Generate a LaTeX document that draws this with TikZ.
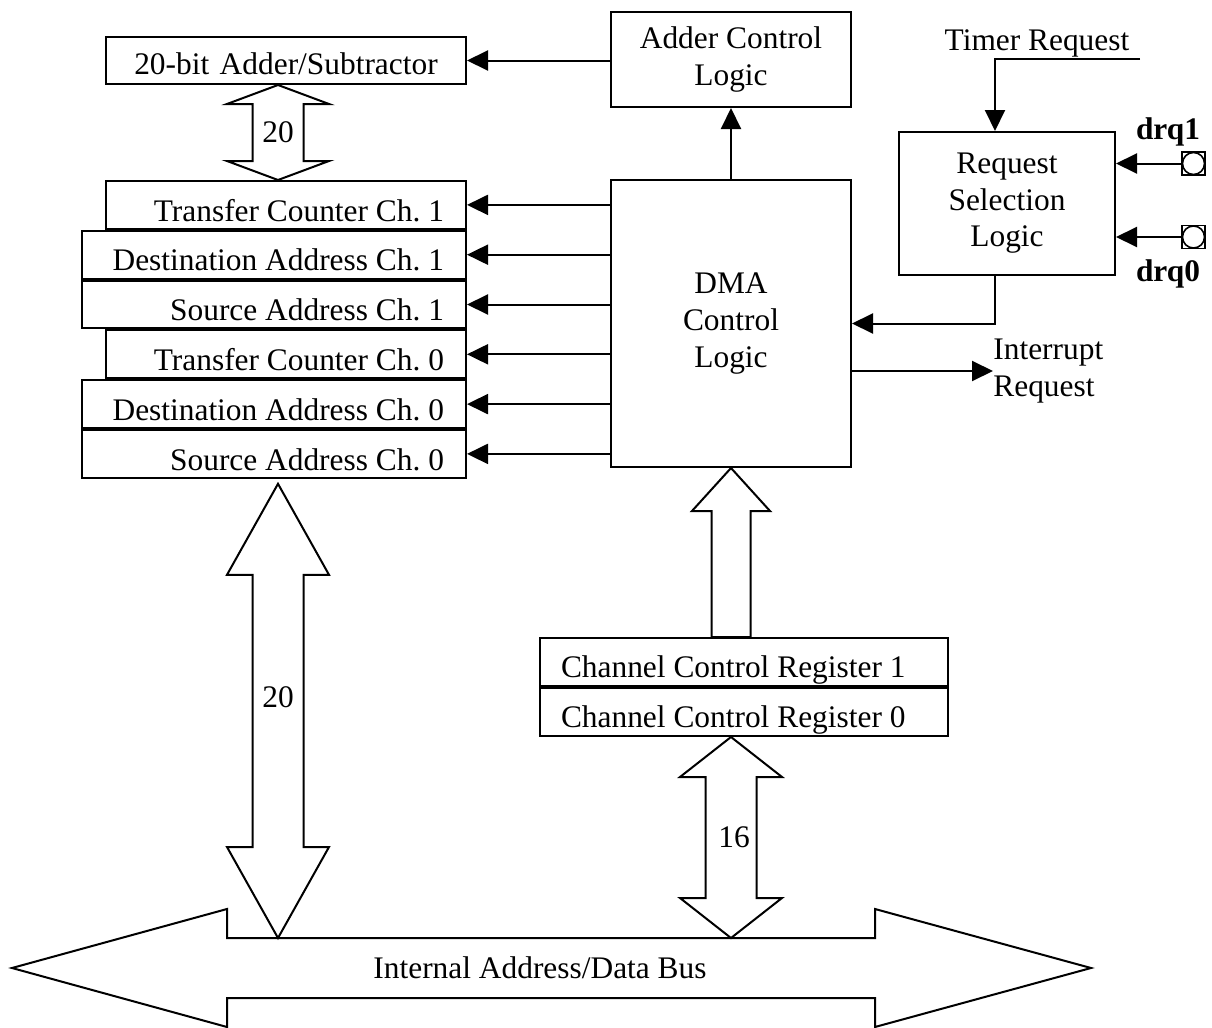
\documentclass[tikz,border=0pt]{standalone}
\usepackage{fontspec}
\setmainfont{Liberation Serif}
\usetikzlibrary{arrows.meta}
\usetikzlibrary{calc}
\usetikzlibrary{positioning}
\tikzset{box/.style={rectangle,draw,line width=1pt,inner sep=0pt,align=center},
reg/.style={box,inner xsep=11pt,text height=20pt,text depth=3.9pt,align=flush right},
wide/.style={reg,text width=170pt},
narrow/.style={reg,text width=158pt},
ccr/.style={reg,inner xsep=10.5pt,text width=183pt,text height=19.5pt,text depth=4.5pt,align=flush left},
pin/.style={rectangle,draw,line width=0.8pt,minimum size=11.5pt,inner sep=0pt,
path picture={\draw[line width=0.8pt] (path picture bounding box.center) circle (5.5pt);}},
lbl/.style={font=\fontsize{15.7}{18.3}\selectfont\bfseries,anchor=base},
bus/.style={draw,line width=1pt,fill=white,line join=miter},
wire/.style={line width=1pt,->},
>={Triangle[length=10.5pt,width=10pt]}}
\newcommand{\dblbus}[5]{%
  \draw[bus] let \p1=(#1), \p2=(#2) in
    (\p1) -- (\x1+#3,\y1-#5) -- (\x1+#4,\y1-#5) -- (\x1+#4,\y2+#5) -- (\x1+#3,\y2+#5) -- (\p2)
    -- (\x1-#3,\y2+#5) -- (\x1-#4,\y2+#5) -- (\x1-#4,\y1-#5) -- (\x1-#3,\y1-#5) -- cycle;}
\begin{document}
\begin{tikzpicture}[x=0.5pt,y=-0.5pt,font=\fontsize{15.7}{18.3}\selectfont\frenchspacing]
  \useasboundingbox (0,0) rectangle (1212,1028);
  % registers
  \node (adder) [narrow,align=center,text height=19pt,text depth=4.5pt,anchor=north east] at (467,36) {20-bit Adder/Subtractor};
  \node (tc1) [narrow,anchor=north east] at (467,180) {Transfer Counter Ch. 1};
  \node (da1) [wide,below left=0pt and 0pt of tc1.south east] {Destination Address Ch. 1};
  \node (sa1) [wide,below left=0pt and 0pt of da1.south east] {Source Address Ch. 1};
  \node (tc0) [narrow,below left=0pt and 0pt of sa1.south east] {Transfer Counter Ch. 0};
  \node (da0) [wide,below left=0pt and 0pt of tc0.south east] {Destination Address Ch. 0};
  \node (sa0) [wide,below left=0pt and 0pt of da0.south east] {Source Address Ch. 0};
  % control
  \node (actl) [box,minimum width=120pt,minimum height=47.5pt] at (731,59.5) {Adder Control\\Logic};
  \node (dma) [box,minimum width=120pt,minimum height=143.5pt] at (731,323.5) {DMA\\Control\\Logic};
  \node (ccr1) [ccr,anchor=north west] at (539,637) {Channel Control Register 1};
  \node (ccr0) [ccr,below right=0pt and 0pt of ccr1.south west] {Channel Control Register 0};
  \node (rsl) [box,minimum width=108pt,minimum height=71.5pt] at (1007,203.5) {Request\\Selection\\Logic};
  \node (drq1) [pin] at (1193.5,163.5) {};
  \node (drq0) [pin] at (1193.5,237) {};
  \node [lbl] at (1168,139) {drq1};
  \node [lbl] at (1168,281) {drq0};
  \node (tlbl) [anchor=base] at (1037,50) {Timer Request};
  \node (irq) [anchor=west,align=left,inner sep=0pt] at (993,371) {Interrupt\\Request};
  \coordinate (timer) at (1140,59);
  \coordinate (bend) at (995,59);
  % signals
  \draw[wire] (actl.west |- adder) -- (adder.east);
  \draw[wire] (dma.north) -- (actl.south);
  \foreach \r in {tc1,da1,sa1,tc0,da0,sa0}
    \draw[wire] (dma.west |- \r) -- (\r.east);
  \draw[wire] (timer) -- (bend) -- (bend |- rsl.north);
  \draw[wire] (bend |- rsl.south) |- (dma.east);
  \draw[wire] (drq1) -- (rsl.east |- drq1);
  \draw[wire] (drq0) -- (rsl.east |- drq0);
  \draw[wire] (dma.east |- irq) -- (irq.west);
  % buses
  \coordinate (busx) at (278,0);
  \coordinate (busedge) at (0,938);
  \draw[bus] (12,968) -- (227,909) -- (227,938) -- (875,938) -- (875,909) -- (1091,968)
    -- (875,1027) -- (875,998) -- (227,998) -- (227,1027) -- cycle;
  \node (bus) at (540,968) {Internal Address/Data Bus};
  \dblbus{busx |- adder.south}{busx |- tc1.north}{25.5pt}{12.75pt}{9.5pt}
  \dblbus{$(busx |- sa0.south)+(0,5)$}{busx |- busedge}{25.5pt}{12.75pt}{45.5pt}
  \dblbus{dma.south |- ccr0.south}{dma.south |- busedge}{25.5pt}{12.75pt}{20pt}
  \draw[bus] let \p1=(dma.south), \p2=(dma.south |- ccr1.north) in
    (\p1) -- (\x1+19.5pt,\y1-21.5pt) -- (\x1+9.75pt,\y1-21.5pt) -- (\x1+9.75pt,\y2)
    -- (\x1-9.75pt,\y2) -- (\x1-9.75pt,\y1-21.5pt) -- (\x1-19.5pt,\y1-21.5pt) -- cycle;
  \node at (278,132) {20};
  \node at (278,697) {20};
  \node at (734,837) {16};
\end{tikzpicture}
\end{document}
